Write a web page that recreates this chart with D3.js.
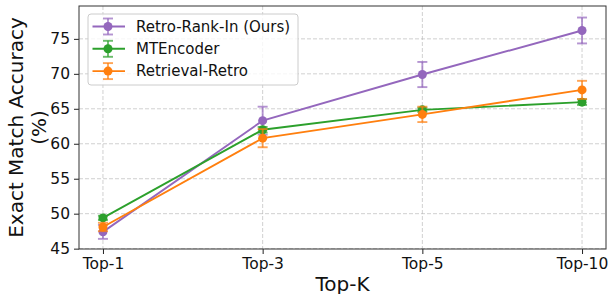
<!DOCTYPE html>
<html>
<head>
<meta charset="utf-8">
<script src="https://cdn.jsdelivr.net/npm/d3@7"></script>
<style>
  body { margin: 0; background: #fff; }
  svg { display: block; font-family: "DejaVu Sans", sans-serif; }
</style>
</head>
<body>
<svg id="chart" width="608" height="294"></svg>
<script>
const categories = ['Top-1', 'Top-3', 'Top-5', 'Top-10'];
const yTicks = [45, 50, 55, 60, 65, 70, 75];

const seriesNames = ['Retro-Rank-In (Ours)', 'MTEncoder', 'Retrieval-Retro'];
const rankInMean = [47.4, 63.3, 69.9, 76.2];
const rankInErr = [1.0, 2.0, 1.8, 1.85];
const mtMean = [49.4, 62.0, 64.85, 65.95];
const mtErr = [0.3, 0.4, 0.3, 0.4];
const retroMean = [48.1, 60.8, 64.2, 67.7];
const retroErr = [0.6, 1.3, 1.1, 1.3];

const COLORS = ['#9467bd', '#2ca02c', '#ff7f0e'];
const MARGIN = {top: 6, right: 2, bottom: 45, left: 79};
const WIDTH = 608;
const HEIGHT = 294;

const series = [
  {name: seriesNames[0], mean: rankInMean, err: rankInErr, color: COLORS[0]},
  {name: seriesNames[1], mean: mtMean, err: mtErr, color: COLORS[1]},
  {name: seriesNames[2], mean: retroMean, err: retroErr, color: COLORS[2]}
];

const width = WIDTH - MARGIN.left - MARGIN.right;
const height = HEIGHT - MARGIN.top - MARGIN.bottom;

const x = d3.scaleLinear()
  .domain([-0.15, 3.15])
  .range([0, width]);

const y = d3.scaleLinear()
  .domain([44.95, 79.7])
  .range([height, 0]);

const svg = d3.select('#chart');
const chart = svg.append('g')
  .attr('transform', `translate(${MARGIN.left}, ${MARGIN.top})`);

// grid
chart.append('g')
  .selectAll('line')
  .data(yTicks)
  .join('line')
  .attr('x1', 0).attr('x2', width)
  .attr('y1', (d) => y(d)).attr('y2', (d) => y(d))
  .attr('stroke', '#b0b0b0').attr('stroke-opacity', 0.6)
  .attr('stroke-dasharray', '4,2');

chart.append('g')
  .selectAll('line')
  .data(categories)
  .join('line')
  .attr('x1', (d, i) => x(i)).attr('x2', (d, i) => x(i))
  .attr('y1', 0).attr('y2', height)
  .attr('stroke', '#b0b0b0').attr('stroke-opacity', 0.6)
  .attr('stroke-dasharray', '4,2');

// axes
const xAxis = d3.axisBottom(x)
  .tickValues(d3.range(categories.length))
  .tickFormat((i) => categories[i])
  .tickSizeInner(5)
  .tickSizeOuter(0)
  .tickPadding(4);

const yAxis = d3.axisLeft(y)
  .tickValues(yTicks)
  .tickSizeInner(5)
  .tickSizeOuter(0)
  .tickPadding(4);

const gx = chart.append('g')
  .attr('transform', `translate(0, ${height})`)
  .call(xAxis);
const gy = chart.append('g').call(yAxis);

[gx, gy].forEach((g) => {
  g.attr('font-size', 15.5).attr('font-family', '"DejaVu Sans", sans-serif');
  g.select('.domain').remove();
  g.selectAll('.tick line').attr('stroke', '#222');
  g.selectAll('.tick text').attr('fill', '#111');
});

chart.append('rect')
  .attr('width', width).attr('height', height)
  .attr('fill', 'none')
  .attr('stroke', '#333').attr('stroke-width', 1);

// series
const line = d3.line()
  .x((d, i) => x(i))
  .y((d) => y(d));

series.forEach((s) => {
  const g = chart.append('g');
  g.append('path')
    .datum(s.mean)
    .attr('d', line)
    .attr('fill', 'none')
    .attr('stroke', s.color)
    .attr('stroke-width', 1.9);

  const eb = g.append('g').attr('stroke', s.color).attr('stroke-opacity', 0.7).attr('stroke-width', 1.9);
  s.mean.forEach((m, i) => {
    const cx = x(i);
    eb.append('line')
      .attr('x1', cx).attr('x2', cx)
      .attr('y1', y(m - s.err[i])).attr('y2', y(m + s.err[i]));
    [m - s.err[i], m + s.err[i]].forEach((v) => {
      eb.append('line')
        .attr('x1', cx - 5).attr('x2', cx + 5)
        .attr('y1', y(v)).attr('y2', y(v));
    });
  });

  g.selectAll('circle')
    .data(s.mean)
    .join('circle')
    .attr('cx', (d, i) => x(i))
    .attr('cy', (d) => y(d))
    .attr('r', 4.5)
    .attr('fill', s.color);
});

// legend
const legend = chart.append('g')
  .attr('transform', 'translate(9, 8)');

legend.append('rect')
  .attr('width', 210).attr('height', 71)
  .attr('rx', 3)
  .attr('fill', '#fff').attr('fill-opacity', 0.8)
  .attr('stroke', '#ccc');

series.forEach((s, i) => {
  const ly = 12.5 + i * 22.3;
  const item = legend.append('g').attr('transform', `translate(0, ${ly})`);
  item.append('line')
    .attr('x1', 4.5).attr('x2', 37)
    .attr('stroke', s.color).attr('stroke-width', 1.9);
  const e = item.append('g').attr('stroke', s.color).attr('stroke-opacity', 0.7).attr('stroke-width', 1.9);
  e.append('line').attr('x1', 20).attr('x2', 20).attr('y1', -8).attr('y2', 8);
  e.append('line').attr('x1', 15).attr('x2', 25).attr('y1', -8).attr('y2', -8);
  e.append('line').attr('x1', 15).attr('x2', 25).attr('y1', 8).attr('y2', 8);
  item.append('circle')
    .attr('cx', 20).attr('r', 4.5).attr('fill', s.color);
  item.append('text')
    .attr('x', 48).attr('dy', '0.35em')
    .attr('fill', '#111')
    .style('font-size', '15px')
    .text(s.name);
});

// axis labels
svg.append('text')
  .attr('x', MARGIN.left + width / 2)
  .attr('y', 291)
  .attr('text-anchor', 'middle')
  .attr('fill', '#111')
  .style('font-size', '20px')
  .text('Top-K');

const yl = svg.append('text')
  .attr('transform', `translate(23, ${MARGIN.top + height / 2}) rotate(-90)`)
  .attr('text-anchor', 'middle')
  .attr('fill', '#111')
  .style('font-size', '20px');
yl.append('tspan').attr('x', 0).attr('y', 0).text('Exact Match Accuracy');
yl.append('tspan').attr('x', 0).attr('y', 23).text('(%)');
</script>
</body>
</html>
